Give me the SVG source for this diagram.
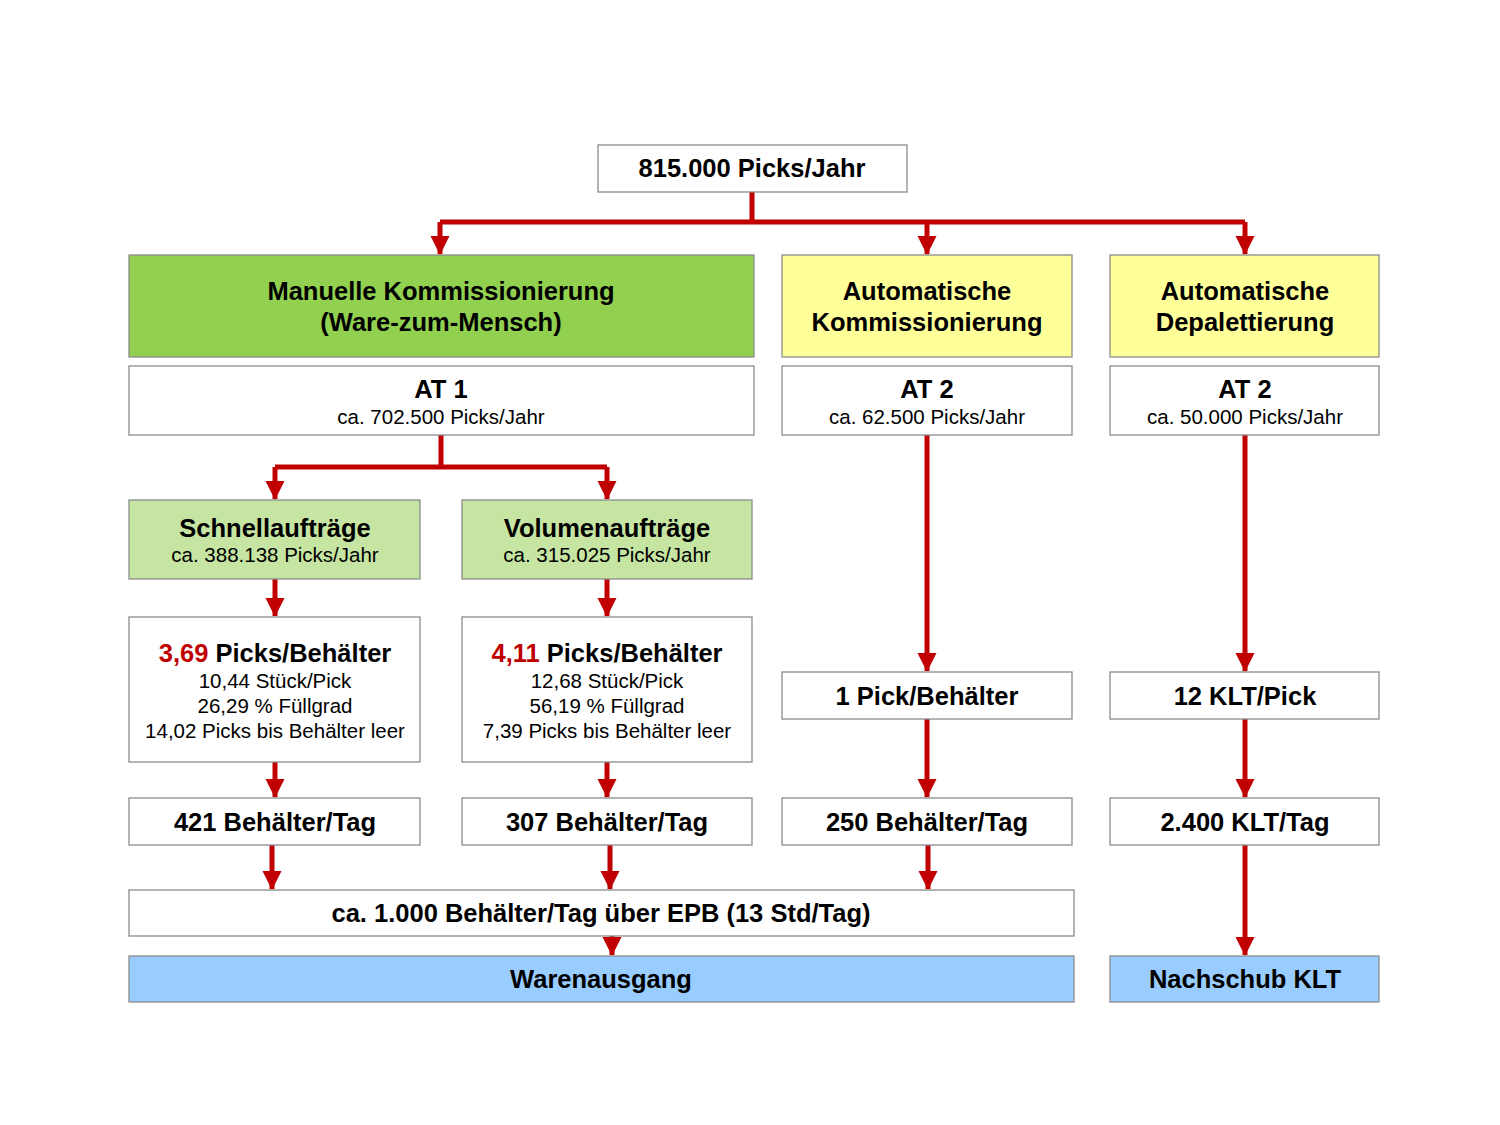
<svg xmlns="http://www.w3.org/2000/svg" width="1500" height="1125" viewBox="0 0 1500 1125">
<defs>
<style>
.box{stroke:#8c8c8c;stroke-width:1.3}
.w{fill:#ffffff}.g{fill:#92d050}.lg{fill:#c6e5a2}.y{fill:#ffff99}.b{fill:#99ccff}
text{font-family:"Liberation Sans",Arial,sans-serif;text-anchor:middle;fill:#000}
.h{font-weight:bold;font-size:25.5px}
.s{font-size:20.5px}
.r{fill:#c00000}
.c{fill:none;stroke:#c00000;stroke-width:5;stroke-linejoin:round}
</style>
<marker id="ah" markerWidth="4" markerHeight="4" refX="3.6" refY="2" orient="auto" markerUnits="strokeWidth" viewBox="0 0 4 4">
<path d="M0,0.1 L3.8,2 L0,3.9 Z" fill="#c00000"/>
</marker>
</defs>
<rect width="1500" height="1125" fill="#ffffff"/>

<g id="connectors">
<path class="c" d="M752,192 V222 M440,222 H1245"/>
<path class="c" d="M440,222 V254" marker-end="url(#ah)"/>
<path class="c" d="M927,222 V254" marker-end="url(#ah)"/>
<path class="c" d="M1245,222 V254" marker-end="url(#ah)"/>
<path class="c" d="M441,435 V467 M275,467 H607"/>
<path class="c" d="M275,467 V499" marker-end="url(#ah)"/>
<path class="c" d="M607,467 V499" marker-end="url(#ah)"/>
<path class="c" d="M275,579 V616" marker-end="url(#ah)"/>
<path class="c" d="M607,579 V616" marker-end="url(#ah)"/>
<path class="c" d="M275,762 V797" marker-end="url(#ah)"/>
<path class="c" d="M607,762 V797" marker-end="url(#ah)"/>
<path class="c" d="M927,435 V671" marker-end="url(#ah)"/>
<path class="c" d="M1245,435 V671" marker-end="url(#ah)"/>
<path class="c" d="M927,719 V797" marker-end="url(#ah)"/>
<path class="c" d="M1245,719 V797" marker-end="url(#ah)"/>
<path class="c" d="M272,845 V889" marker-end="url(#ah)"/>
<path class="c" d="M610,845 V889" marker-end="url(#ah)"/>
<path class="c" d="M928,845 V889" marker-end="url(#ah)"/>
<path class="c" d="M612,936 V955" marker-end="url(#ah)"/>
<path class="c" d="M1245,845 V955" marker-end="url(#ah)"/>
</g>

<g id="top"><rect class="box w" x="598" y="145" width="309" height="47"/><text class="h" x="752" y="177">815.000 Picks/Jahr</text></g>

<g id="manuell"><rect class="box g" x="129" y="255" width="625" height="102"/><text class="h" x="441" y="300">Manuelle Kommissionierung</text><text class="h" x="441" y="331">(Ware-zum-Mensch)</text></g>
<g id="autokomm"><rect class="box y" x="782" y="255" width="290" height="102"/><text class="h" x="927" y="300">Automatische</text><text class="h" x="927" y="331">Kommissionierung</text></g>
<g id="autodepal"><rect class="box y" x="1110" y="255" width="269" height="102"/><text class="h" x="1245" y="300">Automatische</text><text class="h" x="1245" y="331">Depalettierung</text></g>

<g id="at1"><rect class="box w" x="129" y="366" width="625" height="69"/><text class="h" x="441" y="398">AT 1</text><text class="s" x="441" y="424">ca. 702.500 Picks/Jahr</text></g>
<g id="at2a"><rect class="box w" x="782" y="366" width="290" height="69"/><text class="h" x="927" y="398">AT 2</text><text class="s" x="927" y="424">ca. 62.500 Picks/Jahr</text></g>
<g id="at2b"><rect class="box w" x="1110" y="366" width="269" height="69"/><text class="h" x="1245" y="398">AT 2</text><text class="s" x="1245" y="424">ca. 50.000 Picks/Jahr</text></g>

<g id="schnell"><rect class="box lg" x="129" y="500" width="291" height="79"/><text class="h" x="275" y="537">Schnellaufträge</text><text class="s" x="275" y="562">ca. 388.138 Picks/Jahr</text></g>
<g id="volumen"><rect class="box lg" x="462" y="500" width="290" height="79"/><text class="h" x="607" y="537">Volumenaufträge</text><text class="s" x="607" y="562">ca. 315.025 Picks/Jahr</text></g>

<g id="stats1"><rect class="box w" x="129" y="617" width="291" height="145"/>
<text class="h" x="275" y="662"><tspan class="r">3,69</tspan> Picks/Behälter</text>
<text class="s" x="275" y="688">10,44 Stück/Pick</text>
<text class="s" x="275" y="713">26,29 % Füllgrad</text>
<text class="s" x="275" y="738">14,02 Picks bis Behälter leer</text></g>
<g id="stats2"><rect class="box w" x="462" y="617" width="290" height="145"/>
<text class="h" x="607" y="662"><tspan class="r">4,11</tspan> Picks/Behälter</text>
<text class="s" x="607" y="688">12,68 Stück/Pick</text>
<text class="s" x="607" y="713">56,19 % Füllgrad</text>
<text class="s" x="607" y="738">7,39 Picks bis Behälter leer</text></g>

<g id="pick1"><rect class="box w" x="782" y="672" width="290" height="47"/><text class="h" x="927" y="705">1 Pick/Behälter</text></g>
<g id="klt12"><rect class="box w" x="1110" y="672" width="269" height="47"/><text class="h" x="1245" y="705">12 KLT/Pick</text></g>

<g id="b421"><rect class="box w" x="129" y="798" width="291" height="47"/><text class="h" x="275" y="831">421 Behälter/Tag</text></g>
<g id="b307"><rect class="box w" x="462" y="798" width="290" height="47"/><text class="h" x="607" y="831">307 Behälter/Tag</text></g>
<g id="b250"><rect class="box w" x="782" y="798" width="290" height="47"/><text class="h" x="927" y="831">250 Behälter/Tag</text></g>
<g id="klt2400"><rect class="box w" x="1110" y="798" width="269" height="47"/><text class="h" x="1245" y="831">2.400 KLT/Tag</text></g>

<g id="epb"><rect class="box w" x="129" y="890" width="945" height="46"/><text class="h" x="601" y="922">ca. 1.000 Behälter/Tag über EPB (13 Std/Tag)</text></g>
<g id="warenausgang"><rect class="box b" x="129" y="956" width="945" height="46"/><text class="h" x="601" y="988">Warenausgang</text></g>
<g id="nachschub"><rect class="box b" x="1110" y="956" width="269" height="46"/><text class="h" x="1245" y="988">Nachschub KLT</text></g>
</svg>
